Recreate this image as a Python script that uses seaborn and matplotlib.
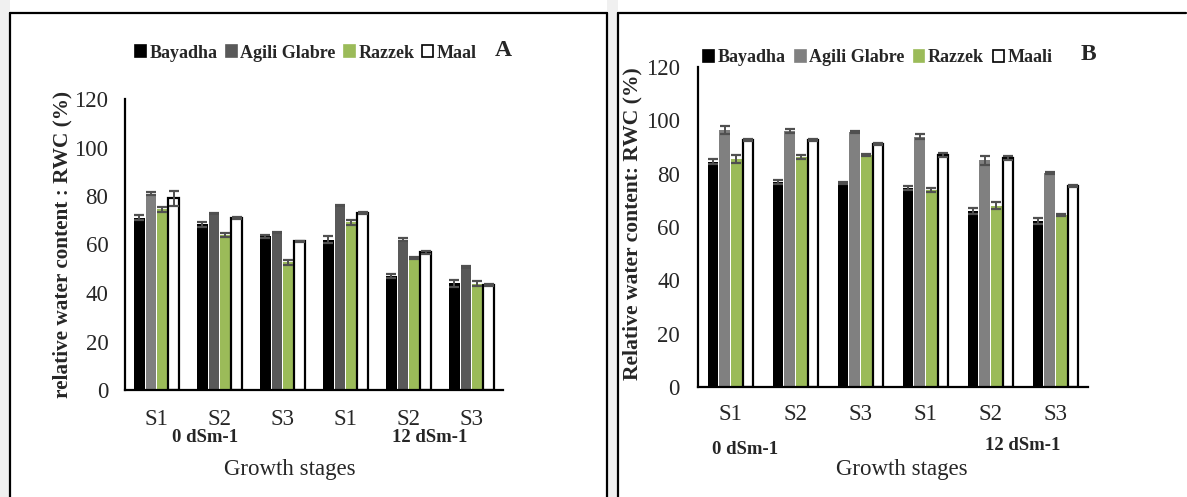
import numpy as np
import pandas as pd
import matplotlib
matplotlib.use("Agg")
import matplotlib.pyplot as plt
import seaborn as sns
from matplotlib.lines import Line2D
from matplotlib.patches import Rectangle

# ---------------- data ----------------
stage_labels = ["S1", "S2", "S3", "S1", "S2", "S3"]
conditions = ["0 dSm-1"] * 3 + ["12 dSm-1"] * 3
categories = [f"{c} {s}" for c, s in zip(conditions, stage_labels)]

cultivars_A = ["Bayadha", "Agili Glabre", "Razzek", "Maal"]
cultivars_B = ["Bayadha", "Agili Glabre", "Razzek", "Maali"]

bayadha_A = [71, 68.3, 63.3, 62, 47, 44]
agili_A = [81, 72.8, 65, 76, 62, 50.8]
razzek_A = [74.5, 64, 52.7, 69.2, 54.5, 43.9]
maal_A = [79, 71, 61.3, 73, 56.8, 43.4]
err_bayadha_A = [1, 1, 0.7, 1.5, 1, 1.5]
err_agili_A = [0.7, 0.3, 0.3, 0.3, 0.7, 0.3]
err_razzek_A = [1, 0.8, 1, 1, 0.5, 1]
err_maal_A = [3, 0.3, 0.3, 0.5, 0.7, 0.5]

bayadha_B = [84.5, 77, 76.4, 74.5, 66, 62.3]
agili_B = [96.4, 96, 95.5, 93.8, 85, 80.2]
razzek_B = [85.6, 86.2, 87, 74, 68, 64.5]
maali_B = [92.6, 92.6, 91, 87, 86, 75.5]
err_bayadha_B = [1, 0.8, 0.4, 0.8, 1, 1]
err_agili_B = [1.5, 0.8, 0.4, 0.9, 1.7, 0.4]
err_razzek_B = [1.5, 0.8, 0.4, 0.8, 1.3, 0.4]
err_maali_B = [0.3, 0.3, 0.4, 0.6, 0.8, 0.4]

colors_A = ["#000000", "#595959", "#9bbb59", "#ffffff"]
colors_B = ["#000000", "#808080", "#9bbb59", "#ffffff"]

# ---------------- style ----------------
sns.set_theme(style="white")
plt.rcParams["font.family"] = ["Liberation Serif", "DejaVu Serif"]

fig = plt.figure(figsize=(11.87, 4.97), dpi=100)
W, H = 1187, 497


def fx(px):
    return px / W


def fy(py):
    return 1 - py / H


def make_df(cultivars, series):
    rows = []
    for name, vals in zip(cultivars, series):
        for cat, v in zip(categories, vals):
            rows.append({"stage": cat, "value": v, "cultivar": name})
    return pd.DataFrame(rows)


def draw_panel(ax, cultivars, series, errs, colors, ytick_pad, xtick_pad):
    df = make_df(cultivars, series)
    sns.barplot(data=df, x="stage", y="value", hue="cultivar",
                order=categories, hue_order=cultivars,
                palette=dict(zip(cultivars, colors)),
                width=0.72, gap=0.1, errorbar=None, legend=False,
                saturation=1, ax=ax)
    bar_conts = list(ax.containers)
    for i, cont in enumerate(bar_conts):
        xs = [p.get_x() + p.get_width() / 2 for p in cont]
        hs = [p.get_height() for p in cont]
        for p in cont:
            if i == 3:
                p.set_edgecolor("black")
                p.set_linewidth(1.6)
            else:
                p.set_edgecolor(colors[i])
                p.set_linewidth(0)
        ax.errorbar(xs, hs, yerr=errs[i], fmt="none", ecolor="#505050",
                    elinewidth=1.4, capsize=3.5, capthick=1.6, zorder=5)
    ax.set_ylim(0, 120)
    ax.set_xlim(-0.5, 5.5)
    ax.set_yticks([0, 20, 40, 60, 80, 100, 120])
    ax.set_xticks(range(6))
    ax.set_xticklabels(stage_labels)
    ax.set_xlabel("")
    ax.set_ylabel("")
    ax.tick_params(axis="y", length=0, pad=ytick_pad, labelsize=16.5)
    ax.tick_params(axis="x", length=0, pad=xtick_pad, labelsize=16.5)
    for s in ["top", "right"]:
        ax.spines[s].set_visible(False)
    for s in ["left", "bottom"]:
        ax.spines[s].set_color("black")
        ax.spines[s].set_linewidth(1.6)
    ax.set_facecolor("white")
    ax.grid(False)
    return bar_conts


# ---------------- panel A ----------------
axA = fig.add_axes([fx(125), fy(390), fx(503) - fx(125), fy(99) - fy(390)])
contsA = draw_panel(axA, cultivars_A, [bayadha_A, agili_A, razzek_A, maal_A],
                    [err_bayadha_A, err_agili_A, err_razzek_A, err_maal_A],
                    colors_A, ytick_pad=12, xtick_pad=13.5)
contsA[1][0].set_facecolor("#7f7f7f")

# ---------------- panel B ----------------
axB = fig.add_axes([fx(698), fy(387), fx(1088) - fx(698), fy(67) - fy(387)])
draw_panel(axB, cultivars_B, [bayadha_B, agili_B, razzek_B, maali_B],
           [err_bayadha_B, err_agili_B, err_razzek_B, err_maali_B],
           colors_B, ytick_pad=13, xtick_pad=12.5)

# ---------------- legends ----------------
def legend_handles(colors):
    hs = []
    for c in colors:
        hs.append(Rectangle((0, 0), 1, 1, facecolor=c,
                            edgecolor="black" if c == "#ffffff" else c,
                            linewidth=1.2))
    return hs


legA = fig.legend(legend_handles(colors_A), cultivars_A, loc="center",
                  bbox_to_anchor=(fx(306), fy(53)), ncol=4, frameon=False,
                  handlelength=0.6, handleheight=0.6, handletextpad=0.2,
                  columnspacing=0.45, prop={"weight": "bold", "size": 13})
legB = fig.legend(legend_handles(colors_B), cultivars_B, loc="center",
                  bbox_to_anchor=(fx(878), fy(58)), ncol=4, frameon=False,
                  handlelength=0.6, handleheight=0.6, handletextpad=0.2,
                  columnspacing=0.5, prop={"weight": "bold", "size": 13})

# ---------------- texts ----------------
fig.text(fx(503), fy(50), "A", ha="center", va="center", fontsize=17, fontweight="bold")
fig.text(fx(1088), fy(55), "B", ha="center", va="center", fontsize=17, fontweight="bold")

fig.text(fx(205), fy(437), "0 dSm-1", ha="center", va="center", fontsize=13.5, fontweight="bold")
fig.text(fx(430), fy(437), "12 dSm-1", ha="center", va="center", fontsize=13.5, fontweight="bold")
fig.text(fx(290), fy(470), "Growth stages", ha="center", va="center", fontsize=16.5)

fig.text(fx(745), fy(450), "0 dSm-1", ha="center", va="center", fontsize=13.5, fontweight="bold")
fig.text(fx(1023), fy(445), "12 dSm-1", ha="center", va="center", fontsize=13.5, fontweight="bold")
fig.text(fx(902), fy(470), "Growth stages", ha="center", va="center", fontsize=16.5)

fig.text(fx(62), fy(244), "relative water content : RWC (%)", rotation=90,
         ha="center", va="center", fontsize=15.3, fontweight="bold")
fig.text(fx(632), fy(224), "Relative water content: RWC (%)", rotation=90,
         ha="center", va="center", fontsize=15.6, fontweight="bold")

# ---------------- frames ----------------
fig.add_artist(Rectangle((0, 0), fx(10), 1, transform=fig.transFigure,
                         facecolor="#f0f0f0", edgecolor="none", zorder=0))
fig.add_artist(Rectangle((fx(607), 0), fx(618) - fx(607), 1, transform=fig.transFigure,
                         facecolor="#f0f0f0", edgecolor="none", zorder=0))
lw = 1.6
fig.add_artist(Line2D([fx(10), fx(10)], [0, fy(13)], color="black", lw=lw))
fig.add_artist(Line2D([fx(10), fx(607)], [fy(13), fy(13)], color="black", lw=lw))
fig.add_artist(Line2D([fx(607), fx(607)], [0, fy(13)], color="black", lw=lw))
fig.add_artist(Line2D([fx(618), fx(618)], [0, fy(13)], color="black", lw=lw))
fig.add_artist(Line2D([fx(618), fx(1186)], [fy(13), fy(13)], color="black", lw=lw))

fig.savefig("out.png", dpi=100, facecolor="white")
